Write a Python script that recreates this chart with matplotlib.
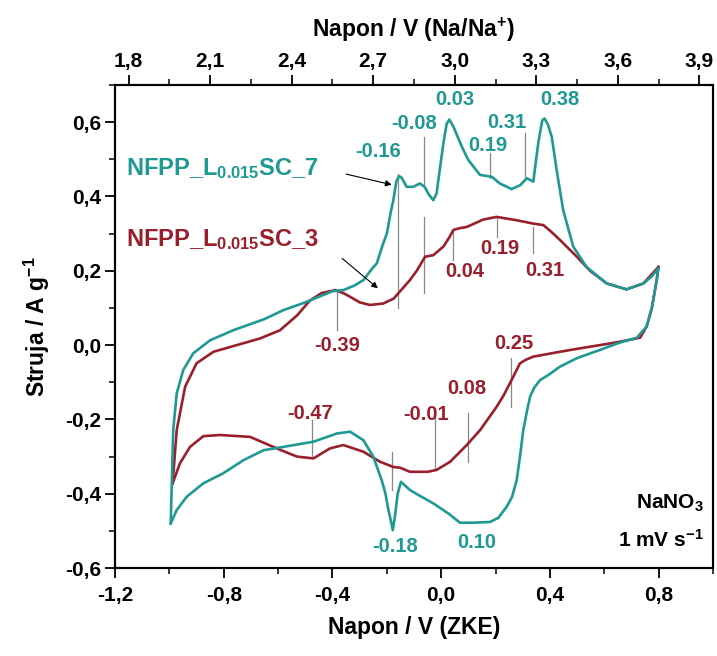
import matplotlib
matplotlib.use("Agg")
import matplotlib.pyplot as plt
from matplotlib.ticker import MultipleLocator, FuncFormatter

plt.rcParams['font.family'] = ['Liberation Sans', 'DejaVu Sans']
plt.rcParams['font.weight'] = 'bold'
plt.rcParams['axes.labelweight'] = 'bold'
plt.rcParams['mathtext.fontset'] = 'custom'
plt.rcParams['mathtext.rm'] = 'Liberation Sans:bold'
plt.rcParams['mathtext.it'] = 'Liberation Sans:bold'
plt.rcParams['mathtext.bf'] = 'Liberation Sans:bold'
plt.rcParams['mathtext.default'] = 'rm'

# ---- data: NFPP_L0.015SC_7 (teal) ----
teal_anodic_x = [-0.995, -0.986, -0.973, -0.949, -0.912, -0.85, -0.765, -0.65, -0.581, -0.5, -0.45, -0.40, -0.36,
                 -0.32, -0.286, -0.255, -0.237, -0.215, -0.2, -0.185, -0.176, -0.165, -0.155, -0.145, -0.127,
                 -0.103, -0.078, -0.06, -0.045, -0.029, -0.017, 0.008, 0.02, 0.03, 0.045, 0.076, 0.1, 0.143,
                 0.186, 0.216, 0.259, 0.29, 0.315, 0.339, 0.357, 0.372, 0.38, 0.392, 0.407, 0.425, 0.449,
                 0.486, 0.535, 0.609, 0.682, 0.744, 0.775, 0.799]
teal_anodic_y = [-0.48, -0.23, -0.13, -0.067, -0.022, 0.013, 0.04, 0.07, 0.094, 0.115, 0.13, 0.145, 0.148,
                 0.16, 0.175, 0.205, 0.22, 0.27, 0.3, 0.36, 0.39, 0.44, 0.455, 0.45, 0.426,
                 0.426, 0.435, 0.425, 0.405, 0.39, 0.408, 0.543, 0.595, 0.607, 0.588, 0.534, 0.498, 0.458,
                 0.453, 0.435, 0.42, 0.43, 0.449, 0.44, 0.543, 0.605, 0.61, 0.595, 0.56, 0.47, 0.363,
                 0.265, 0.21, 0.166, 0.15, 0.166, 0.185, 0.206]
teal_cathodic_x = [0.799, 0.793, 0.775, 0.756, 0.72, 0.65, 0.584, 0.5, 0.437, 0.395, 0.364, 0.342, 0.327,
                   0.315, 0.302, 0.29, 0.278, 0.26, 0.241, 0.21, 0.18, 0.12, 0.069, 0.03, -0.029, -0.08,
                   -0.115, -0.148, -0.16, -0.17, -0.178, -0.186, -0.194, -0.205, -0.219, -0.25, -0.286,
                   -0.335, -0.384, -0.47, -0.581, -0.654, -0.728, -0.802, -0.875, -0.936, -0.973, -0.995]
teal_cathodic_y = [0.206, 0.175, 0.1, 0.05, 0.02, 0.005, -0.013, -0.035, -0.058, -0.08, -0.094, -0.115, -0.139,
                   -0.18, -0.229, -0.3, -0.363, -0.41, -0.435, -0.465, -0.476, -0.478, -0.478, -0.455, -0.426, -0.405,
                   -0.39, -0.368, -0.40, -0.46, -0.498, -0.47, -0.444, -0.40, -0.363, -0.3, -0.256,
                   -0.233, -0.238, -0.26, -0.274, -0.283, -0.31, -0.345, -0.372, -0.408, -0.444, -0.48]

# ---- data: NFPP_L0.015SC_3 (red) ----
red_anodic_x = [-0.988, -0.973, -0.942, -0.9, -0.838, -0.752, -0.666, -0.593, -0.53, -0.483, -0.44, -0.39, -0.36,
                -0.335, -0.3, -0.262, -0.213, -0.175, -0.151, -0.115, -0.09, -0.059, -0.029, 0.008, 0.03,
                0.045, 0.07, 0.094, 0.155, 0.204, 0.278, 0.339, 0.376, 0.405, 0.437, 0.499, 0.548, 0.609,
                0.682, 0.744, 0.799]
red_anodic_y = [-0.372, -0.229, -0.112, -0.049, -0.018, 0.0, 0.018, 0.04, 0.08, 0.12, 0.14, 0.148, 0.14,
                0.13, 0.115, 0.108, 0.112, 0.125, 0.145, 0.175, 0.2, 0.238, 0.242, 0.265, 0.29,
                0.31, 0.315, 0.318, 0.338, 0.345, 0.336, 0.327, 0.323, 0.305, 0.283, 0.238, 0.2, 0.166,
                0.15, 0.166, 0.21]
red_cathodic_x = [0.799, 0.793, 0.775, 0.756, 0.732, 0.65, 0.584, 0.5, 0.437, 0.339, 0.31, 0.29, 0.259, 0.23,
                  0.204, 0.143, 0.094, 0.033, -0.017, -0.05, -0.09, -0.115, -0.151, -0.176, -0.225, -0.286,
                  -0.36, -0.409, -0.47, -0.531, -0.605, -0.703, -0.814, -0.875, -0.924, -0.961, -0.979, -0.988]
red_cathodic_y = [0.21, 0.175, 0.1, 0.05, 0.02, 0.008, 0.0, -0.01, -0.018, -0.031, -0.04, -0.049, -0.094, -0.135,
                  -0.166, -0.229, -0.269, -0.314, -0.336, -0.341, -0.341, -0.341, -0.33, -0.328, -0.314, -0.287,
                  -0.269, -0.278, -0.305, -0.3, -0.278, -0.247, -0.242, -0.245, -0.274, -0.318, -0.354, -0.372]

# peak marker lines: x, y_start, y_end
marker_x = [-0.384, -0.16, -0.065, -0.065, 0.045, 0.18, 0.204, 0.31, 0.339, -0.474, -0.182, -0.023, 0.097, 0.257]
marker_y0 = [0.04, 0.10, 0.43, 0.14, 0.23, 0.449, 0.29, 0.444, 0.247, -0.202, -0.287, -0.184, -0.184, -0.036]
marker_y1 = [0.148, 0.46, 0.56, 0.345, 0.31, 0.516, 0.345, 0.57, 0.318, -0.305, -0.39, -0.336, -0.314, -0.166]

teal_labels = ["0.03", "0.38", "-0.08", "0.31", "0.19", "-0.16", "-0.18", "0.10"]
teal_label_x = [0.05, 0.437, -0.1, 0.241, 0.173, -0.231, -0.17, 0.13]
teal_label_y = [0.66, 0.66, 0.597, 0.60, 0.538, 0.52, -0.543, -0.53]

red_labels = ["-0.39", "0.04", "0.19", "0.31", "0.25", "0.08", "-0.01", "-0.47"]
red_label_x = [-0.384, 0.088, 0.216, 0.382, 0.266, 0.094, -0.054, -0.483]
red_label_y = [0.0, 0.197, 0.26, 0.2, 0.005, -0.117, -0.188, -0.184]

TEAL = '#1f9994'
RED = '#9a1f2c'
OFFSET = 2.95
XMIN, XMAX = -1.2, 1.0

fig = plt.figure(figsize=(7.17, 6.56), dpi=100)
ax = fig.add_axes([0.1604, 0.1341, 0.834, 0.7363])

for x0, a, b in zip(marker_x, marker_y0, marker_y1):
    ax.plot([x0, x0], [a, b], color='#888888', lw=0.9, zorder=1)

ax.plot(teal_anodic_x, teal_anodic_y, color=TEAL, lw=1.9, zorder=3)
ax.plot(teal_cathodic_x, teal_cathodic_y, color=TEAL, lw=1.9, zorder=3)
ax.plot(red_anodic_x, red_anodic_y, color=RED, lw=1.9, zorder=2)
ax.plot(red_cathodic_x, red_cathodic_y, color=RED, lw=1.9, zorder=2)

for t, x0, y0 in zip(teal_labels, teal_label_x, teal_label_y):
    ax.text(x0, y0, t, color=TEAL, fontsize=14.5, ha='center', va='center', fontweight='bold')
for t, x0, y0 in zip(red_labels, red_label_x, red_label_y):
    ax.text(x0, y0, t, color=RED, fontsize=14.5, ha='center', va='center', fontweight='bold')

ax.text(-1.158, 0.476, r'NFPP_L$_{0.015}$SC_7', color=TEAL, fontsize=17, ha='left', va='center')
ax.text(-1.158, 0.283, r'NFPP_L$_{0.015}$SC_3', color=RED, fontsize=17, ha='left', va='center')
ax.annotate('', xy=(-0.172, 0.43), xytext=(-0.36, 0.462),
            arrowprops=dict(arrowstyle='-|>', color='black', lw=0.8, mutation_scale=9))
ax.annotate('', xy=(-0.225, 0.148), xytext=(-0.372, 0.238),
            arrowprops=dict(arrowstyle='-|>', color='black', lw=0.8, mutation_scale=9))

ax.text(0.965, -0.426, r'NaNO$_3$', fontsize=15, ha='right', va='center')
ax.text(0.965, -0.525, r'1 mV s$^{-1}$', fontsize=15, ha='right', va='center')

ax.set_xlim(XMIN, XMAX)
ax.set_ylim(-0.6, 0.7)

fmt = FuncFormatter(lambda v, p: ('%.1f' % (0.0 if abs(v) < 1e-9 else v)).replace('.', ','))
ax.xaxis.set_major_locator(MultipleLocator(0.4))
ax.xaxis.set_minor_locator(MultipleLocator(0.2))
ax.yaxis.set_major_locator(MultipleLocator(0.2))
ax.yaxis.set_minor_locator(MultipleLocator(0.1))
ax.xaxis.set_major_formatter(fmt)
ax.yaxis.set_major_formatter(fmt)
ax.tick_params(which='major', direction='out', length=7, width=1.3, labelsize=15)
ax.tick_params(which='minor', direction='out', length=4, width=1.1)
ax.tick_params(axis='x', which='major', pad=6)
ax.tick_params(axis='y', which='major', pad=3)
ax.tick_params(top=False, right=False, which='both')
for s in ax.spines.values():
    s.set_linewidth(1.5)

ax2 = ax.twiny()
ax2.set_xlim(XMIN + OFFSET, XMAX + OFFSET)
ax2.xaxis.set_major_locator(MultipleLocator(0.3))
ax2.xaxis.set_minor_locator(MultipleLocator(0.15))
ax2.xaxis.set_major_formatter(FuncFormatter(lambda v, p: ('%.1f' % v).replace('.', ',')))
ax2.tick_params(which='major', direction='out', length=7, width=1.3, labelsize=15, pad=3)
ax2.tick_params(which='minor', direction='out', length=4, width=1.1)
for s in ax2.spines.values():
    s.set_linewidth(1.5)
ax2.set_xlabel(r'Napon / V (Na/Na$^{+}$)', fontsize=16.5)
ax2.xaxis.set_label_coords(0.5, 1.099)

ax.set_xlabel('Napon / V (ZKE)', fontsize=16.5)
ax.xaxis.set_label_coords(0.5, -0.10)
ax.set_ylabel(r'Struja / A g$^{-1}$', fontsize=16.5)
ax.yaxis.set_label_coords(-0.105, 0.5)

fig.savefig('out.png', dpi=100)
